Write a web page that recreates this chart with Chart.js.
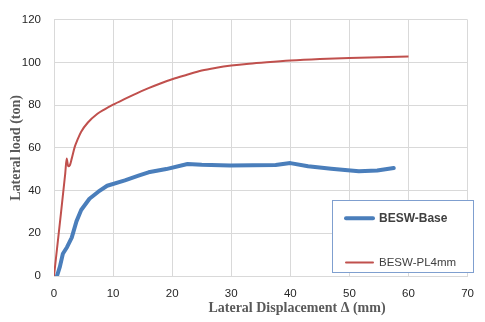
<!DOCTYPE html>
<html>
<head>
<meta charset="utf-8">
<script src="https://cdn.jsdelivr.net/npm/chart.js@4"></script>
<style>
  body { margin: 0; background: #fff; }
  canvas { display: block; }
</style>
</head>
<body>
<canvas id="grafico" width="485" height="322"></canvas>
<script>
// valores
const baseX = [0.5, 1.0, 1.5, 2.2, 3.0, 3.8, 4.6, 6.0, 7.5, 9.0, 12.0, 14.3, 16.0, 19.0, 22.6, 25.0, 29.8, 37.5, 40.0, 43.0, 46.9, 51.6, 54.7, 57.5];
const baseY = [0, 4.4, 10.4, 13.5, 18, 25.6, 30.9, 36.2, 39.5, 42.3, 44.8, 47, 48.6, 50.1, 52.5, 52.1, 51.8, 52, 52.9, 51.4, 50.3, 49.1, 49.4, 50.6];

const pl4X = [0, 1.0, 1.9, 2.15, 2.4, 2.7, 3.0, 3.5, 4.0, 4.6, 5.7, 7.35, 8.5, 10, 12, 14, 16, 18, 20, 22.5, 25, 27.5, 30, 33, 36, 40, 45, 50, 55, 60];
const pl4Y = [0, 25, 48, 55, 51.4, 52, 55, 60.4, 64.0, 67.6, 71.8, 76.0, 78.0, 80.3, 83.0, 85.6, 88.0, 90.2, 92.2, 94.3, 96.3, 97.6, 98.6, 99.5, 100.2, 101, 101.7, 102.2, 102.5, 102.8];

const labels = ['BESW-Base', 'BESW-PL4mm'];
const xTicks = [0, 70, 10];
const yTicks = [0, 120, 20];

const pontos = (xs, ys) => xs.map((x, i) => ({x: x, y: ys[i]}));

const corGrade = '#d9d9d9';
const corTexto = '#262626';

// legenda dentro da area do grafico e titulo do eixo x
const extras = {
    id: 'extras',
    afterDraw(chart) {
        const ctx = chart.ctx;
        ctx.save();
        ctx.fillStyle = '#595959';
        ctx.font = 'bold 14px "Liberation Serif"';
        ctx.textAlign = 'center';
        ctx.textBaseline = 'middle';
        ctx.fillText('Lateral Displacement \u0394 (mm)', 297, 308.5);

        const bx = 332, by = 200, bw = 141, bh = 72;
        ctx.fillStyle = '#fff';
        ctx.fillRect(bx, by, bw, bh);
        ctx.strokeStyle = '#7f9fcf';
        ctx.lineWidth = 1;
        ctx.strokeRect(bx + 0.5, by + 0.5, bw, bh);

        const ys = [218.3, 262.5];
        const fontes = ['bold 12px "Liberation Sans"', '11.5px "Liberation Sans"'];
        chart.data.datasets.forEach((ds, i) => {
            ctx.strokeStyle = ds.borderColor;
            ctx.lineWidth = ds.borderWidth;
            ctx.lineCap = 'round';
            ctx.beginPath();
            ctx.moveTo(346, ys[i]);
            ctx.lineTo(373, ys[i]);
            ctx.stroke();
            ctx.fillStyle = '#404040';
            ctx.font = fontes[i];
            ctx.textAlign = 'left';
            ctx.textBaseline = 'middle';
            ctx.fillText(ds.label, 379, ys[i] + 0.5);
        });
        ctx.restore();
    }
};

new Chart(document.getElementById('grafico'), {
    type: 'line',
    data: {
        datasets: [{
            label: labels[0],
            data: pontos(baseX, baseY),
            borderColor: '#4a7ebb',
            borderWidth: 4,
            borderCapStyle: 'round',
            borderJoinStyle: 'round',
            pointRadius: 0,
            tension: 0,
            fill: false
        }, {
            label: labels[1],
            data: pontos(pl4X, pl4Y),
            borderColor: '#c0504d',
            borderWidth: 2,
            pointRadius: 0,
            cubicInterpolationMode: 'monotone',
            fill: false
        }]
    },
    options: {
        responsive: false,
        animation: false,
        devicePixelRatio: 1,
        layout: { padding: { top: 12, right: 9, left: 0, bottom: 0 } },
        plugins: {
            legend: { display: false },
            tooltip: { enabled: false }
        },
        scales: {
            x: {
                type: 'linear',
                min: xTicks[0],
                max: xTicks[1],
                afterFit: (s) => { s.height = 46; },
                ticks: {
                    stepSize: xTicks[2],
                    padding: 11,
                    color: corTexto,
                    font: { family: 'Liberation Sans', size: 11.5 },
                    maxRotation: 0
                },
                grid: { color: corGrade, drawTicks: false },
                border: { color: corGrade }
            },
            y: {
                min: yTicks[0],
                max: yTicks[1],
                afterFit: (s) => { s.width = 54; },
                ticks: {
                    stepSize: yTicks[2],
                    padding: 13,
                    color: corTexto,
                    font: { family: 'Liberation Sans', size: 11.5 }
                },
                grid: { color: corGrade, drawTicks: false },
                border: { color: corGrade },
                title: {
                    display: true,
                    text: 'Lateral load (ton)',
                    color: '#595959',
                    padding: { top: 8, bottom: 0 },
                    font: { family: 'Liberation Serif', size: 14, weight: 'bold' }
                }
            }
        }
    },
    plugins: [extras]
});
</script>
</body>
</html>
